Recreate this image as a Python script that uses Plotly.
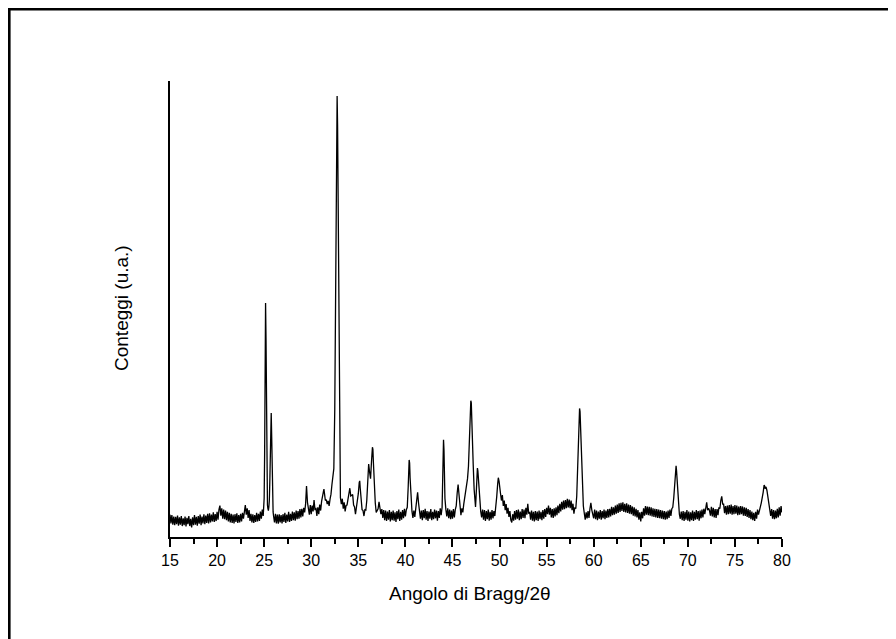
import plotly.graph_objects as go

# ---- data (2theta in degrees, counts in arbitrary units) ----
tt_a = [15.0,15.1,15.2,15.3,15.4,15.5,15.6,15.7,15.8,15.9,16.0,16.1,16.2,16.3,16.4,16.5,16.6,16.7,16.8,16.9,
        17.0,17.1,17.2,17.3,17.4,17.5,17.6,17.7,17.8,17.9,18.0,18.1,18.2,18.3,18.4,18.5,18.6,18.7,18.8,18.9,
        19.0,19.1,19.2,19.3,19.4,19.5,19.6,19.7,19.8,19.9,20.0,20.1,20.2,20.3,20.4,20.5,20.6,20.7,20.8,20.9,
        21.0,21.1,21.2,21.3,21.4,21.5,21.6,21.7,21.8,21.9,22.0,22.1,22.2,22.3,22.4,22.5,22.6,22.7,22.8,22.9,
        23.0,23.1,23.2,23.3,23.4,23.5,23.6,23.7,23.8,23.9,24.0,24.1,24.2,24.3,24.4,24.5,24.6,24.7,24.8,24.9]
ct_a = [4.9,3.0,4.8,2.7,4.5,2.6,4.4,2.8,4.7,2.5,4.3,2.7,4.6,2.4,4.1,2.6,4.5,2.3,4.2,2.8,
        4.6,2.4,4.0,2.1,4.3,2.6,4.8,2.7,4.4,2.5,4.6,2.9,4.9,2.6,4.5,3.0,5.0,2.8,4.7,3.1,
        5.1,3.0,5.2,3.2,4.9,3.4,5.4,3.3,5.0,3.5,5.5,3.8,6.0,6.9,4.7,6.3,4.0,6.0,3.9,5.8,
        3.7,5.5,3.4,5.3,3.2,5.1,3.1,4.9,3.0,5.0,3.3,5.2,3.1,4.8,3.2,5.1,3.4,5.3,4.0,6.2,
        7.0,4.9,6.3,4.2,5.9,3.5,5.1,3.2,5.0,3.1,4.8,3.3,5.3,3.4,5.1,3.5,5.6,4.0,6.0,4.6]

tt_b = [25.0,25.05,25.1,25.15,25.2,25.25,25.3,25.35,25.4,25.45,25.5,25.55,25.6,25.65,25.7,25.75,25.8,25.85,25.9,25.95,26.0]
ct_b = [8.5,18,38,51.3,43,24,11,7,6.2,5.8,6.6,8,12,19,25.5,27.2,22,13,7.5,5.5,4.6]

tt_c = [26.1,26.2,26.3,26.4,26.5,26.6,26.7,26.8,26.9,27.0,27.1,27.2,27.3,27.4,27.5,27.6,27.7,27.8,27.9,28.0,
        28.1,28.2,28.3,28.4,28.5,28.6,28.7,28.8,28.9,29.0,29.1,29.2,29.3]
ct_c = [3.2,5.1,3.0,4.9,2.9,5.0,3.2,4.8,3.0,5.0,3.3,5.3,3.1,4.9,3.4,5.5,3.3,5.1,3.5,5.6,
        3.7,5.4,3.6,5.8,3.9,5.7,4.0,6.1,4.3,6.2,4.5,6.4,5.4]

tt_d = [29.4,29.5,29.6,29.7,29.8,29.9,30.0,30.1,30.2,30.3,30.4,30.5,30.6,30.7,30.8,30.9,31.0,31.1,31.2,31.3,
        31.35,31.4,31.5,31.6,31.7,31.8,31.9,32.0,32.1,32.2,32.3,32.4,32.5,32.55,32.6,32.65,32.7,32.75,32.8,32.85,
        32.9,32.95,33.0,33.05,33.1,33.2,33.3,33.4,33.5,33.6,33.7,33.8,33.9,34.0,34.1,34.2,34.3,34.4,34.5,34.6,
        34.7,34.8,34.9,35.0,35.1,35.15,35.2,35.3,35.4,35.5,35.6,35.7,35.8,35.9,36.0,36.1,36.2,36.3,36.4,36.5,
        36.55,36.6,36.7,36.8,36.9,37.0,37.1,37.2,37.3,37.4,37.5,37.6,37.7]
ct_d = [7.2,11.2,7.6,6.6,4.9,7.0,5.0,6.9,5.6,8.1,5.9,6.4,4.6,6.5,5.0,7.1,5.8,7.8,8.6,10.0,
        10.5,9.6,8.0,8.2,7.2,7.9,6.8,8.3,9.4,11.5,12.8,15,28,45,65,83,94,96.7,90,75,
        52,32,18,11,8.6,7.2,8.4,6.2,7.6,5.6,6.9,7.0,8.5,9.6,10.7,9.0,9.2,9.3,7.0,6.6,
        5.0,6.4,7.2,9.5,12.0,12.3,10.8,8.0,6.0,5.8,4.6,6.0,5.9,8.0,11.5,16.0,14.2,12.8,16.5,19.7,
        19.2,16.5,11,7.5,5.4,5.8,6.2,7.7,6.4,5.0,6.1,4.2,5.9]

tt_e = [37.8,37.9,38.0,38.1,38.2,38.3,38.4,38.5,38.6,38.7,38.8,38.9,39.0,39.1,39.2,39.3,39.4,39.5,39.6,39.7,
        39.8,39.9,40.0,40.1]
ct_e = [3.7,5.8,3.5,5.6,3.8,5.9,3.4,5.5,3.7,5.8,3.6,5.4,3.3,5.7,3.9,6.0,3.5,5.5,3.8,5.9,
        4.1,6.2,4.5,6.0]

tt_f = [40.2,40.3,40.4,40.45,40.5,40.6,40.7,40.8,40.9,41.0,41.1,41.2,41.3,41.4,41.5,41.6]
ct_f = [6.5,11,16.9,16.2,13,8,5.6,4.2,5.8,4.4,5.9,7.6,9.8,7.4,5.2,4.0]

tt_g = [41.7,41.8,41.9,42.0,42.1,42.2,42.3,42.4,42.5,42.6,42.7,42.8,42.9,43.0,43.1,43.2,43.3,43.4,43.5,43.6,
        43.7,43.8]
ct_g = [5.8,3.7,5.9,4.1,6.2,3.8,5.7,3.5,5.6,4.0,6.1,3.7,5.5,3.9,6.0,4.1,5.8,3.6,5.7,4.2,
        6.3,4.8]

tt_h = [43.9,43.95,44.0,44.05,44.1,44.15,44.2,44.3,44.4,44.5,44.6,44.7,44.8,44.9,45.0,45.1,45.2,45.3,45.4,45.5,
        45.6,45.7,45.8,45.9,46.0,46.1,46.2,46.3,46.4,46.5,46.6,46.7,46.8,46.9,46.95,47.0,47.05,47.1,47.2,47.3,
        47.4,47.45,47.5,47.55,47.6,47.65,47.7,47.8,47.9,48.0,48.1,48.2]
ct_h = [6.5,10,15,21.3,19,13,8.5,6,4.5,6.3,4.1,6.0,3.9,5.8,4.0,6.1,4.3,6.0,6.8,9.6,
        11.5,9.2,6.4,4.8,6.3,5.4,7.2,8.6,10.8,12.1,12.8,15.5,22,28,29.9,29.4,27,23,16,10.5,
        7.5,6.6,8.5,11.5,14.2,15.1,14.5,11,7.6,5.6,4.3,6.0]

tt_i = [48.3,48.4,48.5,48.6,48.7,48.8,48.9,49.0,49.1,49.2,49.3,49.4,49.5]
ct_i = [3.8,5.9,3.5,5.7,3.9,6.0,3.6,5.5,3.8,5.9,4.1,5.7,4.6]

tt_j = [49.6,49.7,49.8,49.87,49.95,50.0,50.1,50.2,50.3,50.4,50.5,50.6,50.7,50.8,50.9,51.0,51.1,51.2,51.3,51.4,51.5]
ct_j = [6.4,8.8,11.6,13.0,12.2,10.8,9.6,8.0,9.2,6.8,8.0,5.9,7.2,5.1,6.4,4.4,5.7,3.7,3.2,5.0,3.6]

tt_k = [51.6,51.7,51.8,51.9,52.0,52.1,52.2,52.3,52.4,52.5,52.6,52.7,52.8,52.9,53.0,53.1,53.2,53.3,53.4,53.5,
        53.6,53.7,53.8,53.9,54.0,54.1,54.2,54.3,54.4,54.5,54.6,54.7,54.8,54.9,55.0,55.1,55.2,55.3,55.4,55.5,
        55.6,55.7,55.8,55.9,56.0,56.1,56.2,56.3,56.4,56.5,56.6,56.7,56.8,56.9,57.0,57.1,57.2,57.3,57.4,57.5,
        57.6,57.7,57.8,57.9,58.0,58.1]
ct_k = [5.7,3.8,5.9,4.0,6.0,3.7,5.6,3.9,6.1,4.2,6.0,4.1,6.4,4.9,7.3,5.1,5.5,3.8,5.8,3.6,
        5.5,3.4,5.7,3.7,5.6,3.5,5.8,3.9,5.5,3.7,5.9,4.0,6.1,4.4,6.4,5.0,6.9,4.9,6.4,4.3,
        6.1,4.2,6.3,4.5,6.5,4.8,6.9,5.2,7.3,5.6,7.7,6.0,8.0,6.1,8.1,6.3,8.4,6.5,8.2,6.3,
        8.0,5.9,7.3,5.1,6.5,6.2]

tt_l = [58.2,58.3,58.4,58.45,58.5,58.55,58.6,58.7,58.8,58.9,59.0,59.1,59.2,59.3,59.4,59.5,59.6,59.7,59.8,59.9]
ct_l = [9,15,23,27,28.2,27.5,24,17,10,6.8,5.2,3.8,5.4,4.1,5.7,4.2,6.2,7.5,5.9,5.2]

tt_m = [60.0,60.1,60.2,60.3,60.4,60.5,60.6,60.7,60.8,60.9,61.0,61.1,61.2,61.3,61.4,61.5,61.6,61.7,61.8,61.9,
        62.0,62.1,62.2,62.3,62.4,62.5,62.6,62.7,62.8,62.9,63.0,63.1,63.2,63.3,63.4,63.5,63.6,63.7,63.8,63.9,
        64.0,64.1,64.2,64.3,64.4,64.5,64.6,64.7,64.8,64.9,65.0,65.1,65.2,65.3,65.4,65.5,65.6,65.7,65.8,65.9,
        66.0,66.1,66.2,66.3,66.4,66.5,66.6,66.7,66.8,66.9,67.0,67.1,67.2,67.3,67.4,67.5,67.6,67.7,67.8,67.9,
        68.0,68.1,68.2,68.3]
ct_m = [4.1,6.0,3.9,5.8,3.7,5.6,4.0,5.9,3.8,5.7,4.1,6.0,3.9,5.8,4.2,6.1,4.3,6.2,4.5,6.6,
        4.8,6.5,4.9,6.9,5.1,7.1,5.3,7.4,5.5,7.5,5.7,7.6,5.5,7.3,5.4,7.4,5.3,7.1,5.1,7.0,
        5.0,6.7,4.7,6.5,4.5,6.2,4.3,5.9,3.8,5.4,3.4,5.5,4.1,6.3,4.7,6.8,4.9,6.7,4.8,6.6,
        4.7,6.5,4.5,6.3,4.4,6.2,4.3,6.1,4.2,6.0,4.1,5.9,4.0,5.8,3.9,5.7,3.8,5.6,3.9,5.8,
        4.2,6.0,4.6,6.2]

tt_n = [68.4,68.5,68.6,68.7,68.75,68.8,68.9,69.0,69.1,69.2,69.3]
ct_n = [6.5,8.5,12,15,15.6,14.5,10.5,6.8,5.0,4.0,5.6]

tt_o = [69.4,69.5,69.6,69.7,69.8,69.9,70.0,70.1,70.2,70.3,70.4,70.5,70.6,70.7,70.8,70.9,71.0,71.1,71.2,71.3,
        71.4,71.5,71.6,71.7,71.8,71.9,72.0,72.1,72.2,72.3,72.4,72.5,72.6,72.7,72.8,72.9,73.0,73.1,73.2,73.3,
        73.4,73.5,73.6,73.7,73.8,73.9,74.0,74.1,74.2,74.3,74.4,74.5,74.6,74.7,74.8,74.9,75.0,75.1,75.2,75.3,
        75.4,75.5,75.6,75.7,75.8,75.9,76.0,76.1,76.2,76.3,76.4,76.5,76.6,76.7,76.8,76.9,77.0,77.1,77.2,77.3,
        77.4,77.5]
ct_o = [3.7,5.7,3.5,5.5,3.8,5.9,3.6,5.6,3.4,5.4,3.7,5.8,3.5,5.5,3.8,5.9,3.9,5.7,3.6,5.8,
        4.1,6.0,4.3,6.2,5.0,7.0,7.6,5.9,6.3,5.8,4.7,6.6,4.5,6.4,4.3,6.1,4.2,6.1,4.8,6.5,
        6.2,8.0,8.9,7.2,7.2,5.2,6.8,4.9,6.9,5.0,7.0,5.1,7.1,4.9,6.8,5.0,7.0,5.1,6.9,4.8,
        6.7,4.9,6.8,5.0,6.7,4.7,6.5,4.6,6.4,4.4,6.1,4.2,5.9,3.9,5.6,3.7,5.3,3.5,5.5,4.0,
        6.0,4.9]

tt_p = [77.6,77.7,77.8,77.9,78.0,78.1,78.15,78.2,78.3,78.4,78.5,78.6,78.7,78.8,78.9,79.0,79.1,79.2,79.3,79.4,
        79.5,79.6,79.7,79.8,79.9,80.0]
ct_p = [6.2,6.6,7.5,8.4,9.8,11.4,11.2,10.6,11.0,10.2,9.0,7.4,6.0,4.6,6.1,4.0,5.9,3.9,5.8,4.1,
        6.2,4.3,6.5,4.7,6.8,5.4]

two_theta = tt_a + tt_b + tt_c + tt_d + tt_e + tt_f + tt_g + tt_h + tt_i + tt_j + tt_k + tt_l + tt_m + tt_n + tt_o + tt_p
counts = ct_a + ct_b + ct_c + ct_d + ct_e + ct_f + ct_g + ct_h + ct_i + ct_j + ct_k + ct_l + ct_m + ct_n + ct_o + ct_p

x_ticks = [15, 20, 25, 30, 35, 40, 45, 50, 55, 60, 65, 70, 75, 80]
x_title = "Angolo di Bragg/2θ"
y_title = "Conteggi (u.a.)"

FONT = "Arial, 'Liberation Sans', sans-serif"
OFF = 8                      # page body margin in the browser
W, H = 896 - OFF, 639 - OFF
L, R, T, B = 170 - OFF, 114, 81 - OFF, 102
pw, ph = W - L - R, H - T - B

def page_to_paper(px, py):
    return (px - OFF - L) / pw, (OFF + H - B - py) / ph

fig = go.Figure()
fig.add_trace(go.Scatter(x=two_theta, y=counts, mode="lines",
                         line=dict(color="black", width=1.3), hoverinfo="skip"))

fig.update_layout(
    width=W, height=H,
    margin=dict(l=L, r=R, t=T, b=B, pad=0),
    paper_bgcolor="white", plot_bgcolor="white",
    showlegend=False,
    font=dict(family=FONT, color="black"),
)
fig.update_xaxes(range=[15, 80], tickvals=x_ticks, ticktext=[str(v) for v in x_ticks],
                 showline=True, linecolor="black", linewidth=2,
                 ticks="outside", ticklen=8, tickwidth=1.5, tickcolor="black",
                 minor=dict(dtick=2.5, tick0=15, ticks="outside", ticklen=5, tickwidth=1.5, tickcolor="black", showgrid=False),
                 showgrid=False, zeroline=False, tickfont=dict(size=16, family=FONT))
fig.update_yaxes(range=[0, 100], showline=True, linecolor="black", linewidth=2,
                 showticklabels=False, ticks="", showgrid=False, zeroline=False)

xa, ya = page_to_paper(470, 593)
fig.add_annotation(text=x_title, xref="paper", yref="paper", x=xa, y=ya,
                   xanchor="center", yanchor="middle", showarrow=False,
                   font=dict(size=19, family=FONT, color="black"))
xb, yb = page_to_paper(121, 308)
fig.add_annotation(text=y_title, xref="paper", yref="paper", x=xb, y=yb, textangle=-90,
                   xanchor="center", yanchor="middle", showarrow=False,
                   font=dict(size=19, family=FONT, color="black"))

# outer frame (top and left edges visible)
x0, y0 = page_to_paper(9.3, 9.3)
x1, y1 = page_to_paper(905, 650)
fig.add_shape(type="rect", xref="paper", yref="paper", x0=x0, y0=y0, x1=x1, y1=y1,
              line=dict(color="black", width=2.6), fillcolor="rgba(0,0,0,0)", layer="above")

fig.write_html("out.html", config={"displayModeBar": False})
